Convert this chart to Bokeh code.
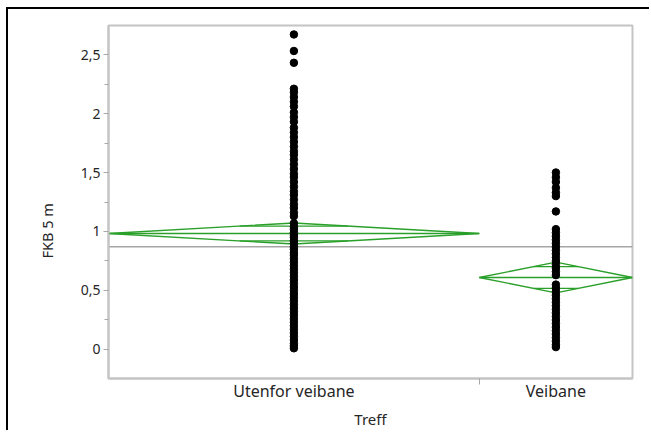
import math
from bokeh.plotting import figure
from bokeh.models import FixedTicker, Title, Range1d, ColumnDataSource
from bokeh.embed import file_html
from bokeh.resources import INLINE

# ---- data ----
groups = ["Utenfor veibane", "Veibane"]
group_n = [121, 50]
group_mean = [0.983, 0.61]
group_ci_half = [0.089, 0.13]
grand_mean = 0.87

utenfor = [2.67, 2.53, 2.43,
           2.21, 2.18, 2.14, 2.10, 2.06, 2.01, 1.97, 1.93, 1.88, 1.84, 1.80,
           1.76, 1.72, 1.68, 1.65, 1.61, 1.57, 1.53, 1.49, 1.46, 1.42, 1.38,
           1.34, 1.31, 1.27, 1.23, 1.20, 1.16, 1.13,
           1.07, 1.04, 1.02, 0.99, 0.97, 0.95, 0.92, 0.90, 0.87, 0.85, 0.82,
           0.80, 0.77, 0.74, 0.71, 0.68, 0.65, 0.62, 0.59, 0.56, 0.53, 0.50,
           0.47, 0.44, 0.41, 0.38, 0.35, 0.32, 0.29, 0.26, 0.23, 0.20, 0.17,
           0.14, 0.11, 0.08, 0.05, 0.03, 0.01]
veibane = [1.50, 1.46, 1.42, 1.37, 1.33, 1.30, 1.17,
           1.02, 0.99, 0.96, 0.93, 0.90, 0.87, 0.84, 0.81, 0.78, 0.75, 0.72,
           0.69, 0.66, 0.63,
           0.55, 0.52, 0.49, 0.46, 0.43, 0.40, 0.37, 0.34, 0.31, 0.28, 0.25,
           0.22, 0.19, 0.16, 0.13, 0.10, 0.07, 0.04, 0.02]
group_values = [utenfor, veibane]

y_ticks = [0, 0.5, 1, 1.5, 2, 2.5]
y_tick_labels = ["0", "0,5", "1", "1,5", "2", "2,5"]
y_minor_ticks = [0.25, 0.75, 1.25, 1.75, 2.25]
y_title = "FKB 5 m"
x_title = "Treff"

# ---- layout ----
FONT = "Noto Sans"
TXT = "#262626"
GRAY = "#c4c4c4"
TICK = "#a8a8a8"
GREEN = "#2aa02a"

total = sum(group_n)
lows, highs, centers = [], [], []
acc = 0
for n in group_n:
    lows.append(acc)
    highs.append(acc + n)
    centers.append(acc + n / 2)
    acc += n

p = figure(width=643, height=423,
           x_range=Range1d(0, total), y_range=Range1d(-0.246, 2.746),
           output_backend="svg", toolbar_location=None,
           min_border_left=100, min_border_right=19,
           min_border_top=16, min_border_bottom=54)
p.styles = {"margin-left": "6px", "margin-top": "7px",
            "border-left": "2px solid black", "border-top": "2px solid black"}

p.xgrid.visible = False
p.ygrid.visible = False
p.outline_line_color = GRAY
p.outline_line_width = 2
p.background_fill_color = "white"
p.border_fill_color = "white"

# y axis
ya = p.yaxis[0]
ya.ticker = FixedTicker(ticks=y_ticks, minor_ticks=y_minor_ticks)
ya.major_label_overrides = {t: l for t, l in zip(y_ticks, y_tick_labels)}
ya.axis_line_color = GRAY
ya.axis_line_width = 2
ya.major_tick_line_color = TICK
ya.minor_tick_line_color = TICK
ya.major_tick_out = 5
ya.major_tick_in = 0
ya.minor_tick_out = 4
ya.minor_tick_in = 0
ya.major_label_standoff = 3
ya.major_label_text_font = FONT
ya.major_label_text_font_size = "14px"
ya.major_label_text_color = TXT

# x axis
xa = p.xaxis[0]
xa.ticker = FixedTicker(ticks=centers, minor_ticks=highs[:-1])
xa.major_label_overrides = {c: g for c, g in zip(centers, groups)}
xa.axis_line_color = GRAY
xa.axis_line_width = 2
xa.major_tick_line_color = None
xa.major_tick_out = 0
xa.major_tick_in = 0
xa.minor_tick_line_color = TICK
xa.minor_tick_out = 6
xa.minor_tick_in = 0
xa.major_label_standoff = -5
xa.major_label_text_font = FONT
xa.major_label_text_font_size = "16px"
xa.major_label_text_color = TXT
xa.axis_label = x_title
xa.axis_label_standoff = 4
xa.axis_label_text_font = FONT
xa.axis_label_text_font_size = "15px"
xa.axis_label_text_font_style = "normal"
xa.axis_label_text_color = TXT

# y axis title, left of the axis and a little below the frame centre
p.add_layout(Title(text=y_title, align="left", offset=120, standoff=41,
                   text_font=FONT, text_font_size="14.5px",
                   text_font_style="normal", text_color=TXT), "left")

# grand mean line
p.line([0, total], [grand_mean, grand_mean], line_color="#a6a6a6", line_width=1.5)

# means diamonds
k = 1 / math.sqrt(2)
for lo, hi, c, m, h in zip(lows, highs, centers, group_mean, group_ci_half):
    p.line([lo, c, hi, c, lo], [m, m + h, m, m - h, m], line_color=GREEN, line_width=1.3)
    p.line([lo, hi], [m, m], line_color=GREEN, line_width=1.3)
    half = (hi - lo) / 2 * (1 - k)
    for s in (1, -1):
        p.line([c - half, c + half], [m + s * h * k] * 2, line_color=GREEN, line_width=1.3)

# points
for c, vals in zip(centers, group_values):
    src = ColumnDataSource(dict(x=[c] * len(vals), y=vals))
    p.scatter("x", "y", source=src, size=7.5, color="black")

open("out.html", "w").write(file_html(p, INLINE))
